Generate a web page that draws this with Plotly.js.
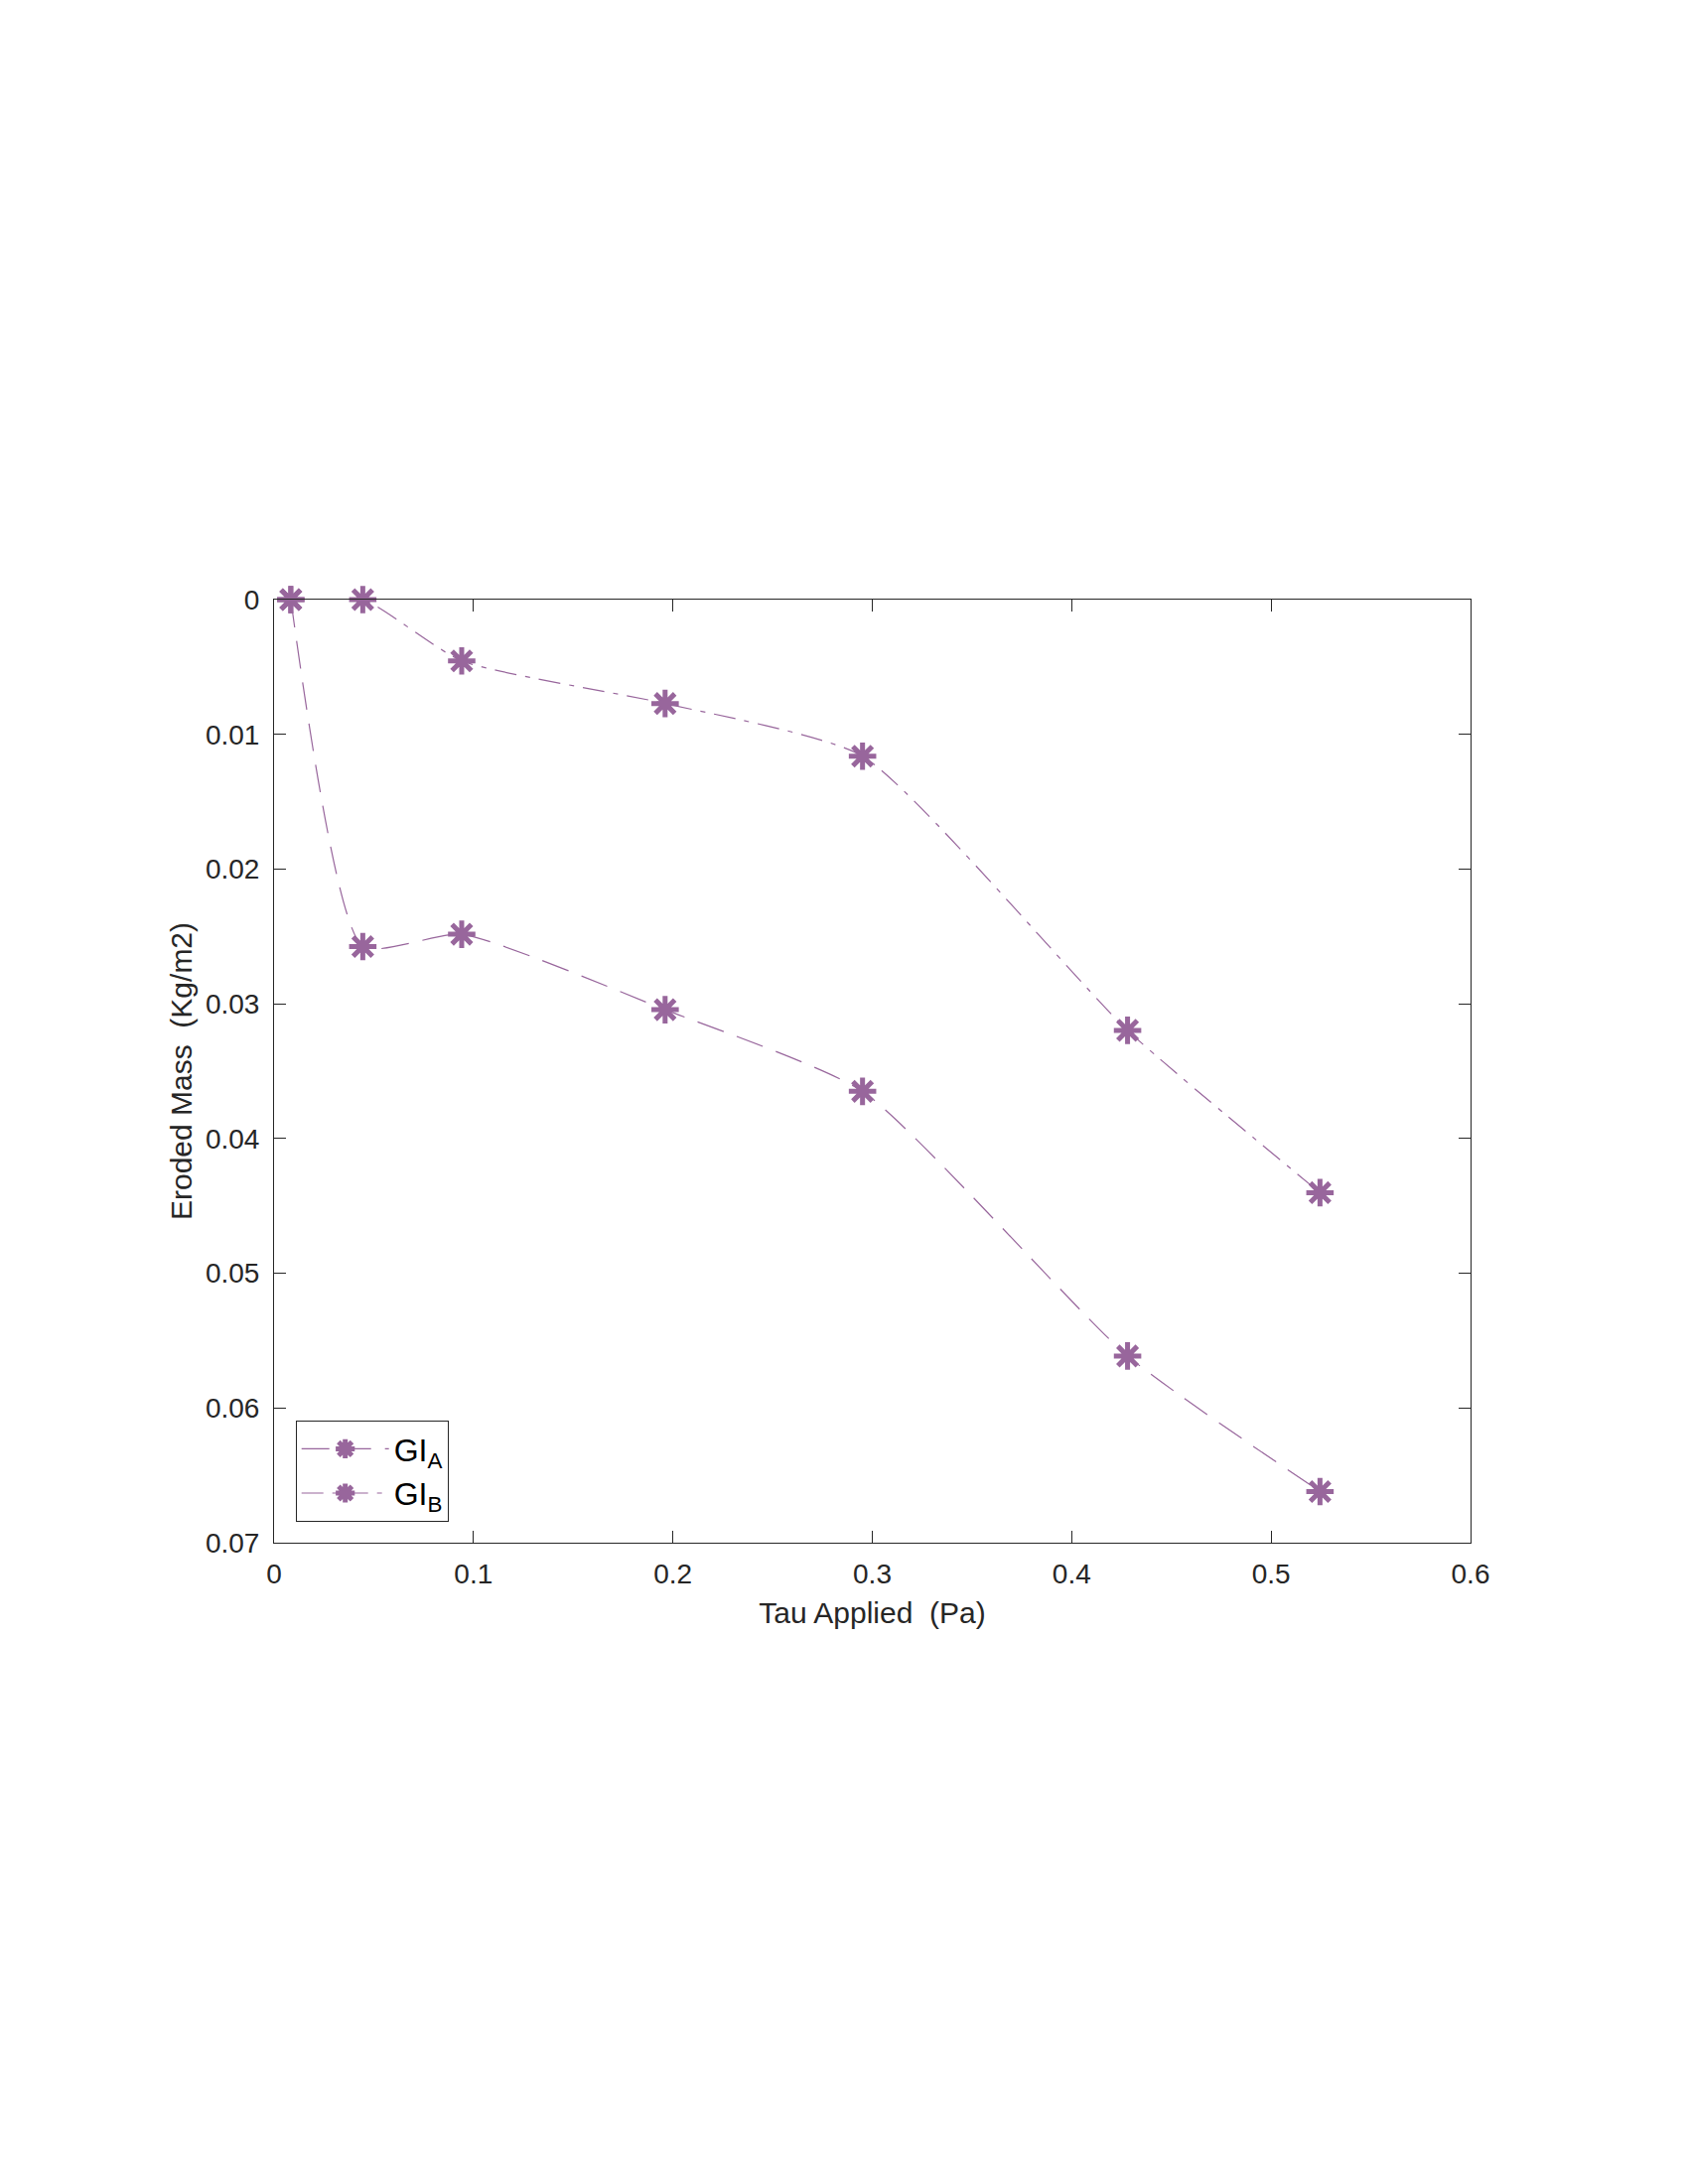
<!DOCTYPE html>
<html>
<head>
<meta charset="utf-8">
<script src="https://cdn.plot.ly/plotly-3.0.1.min.js"></script>
<style>html,body{margin:0;padding:0;background:#fff;}#chart{width:1700px;height:2200px;}</style>
</head>
<body>
<div id="chart"></div>
<script>
// Data
const tauApplied = [0.0084, 0.0445, 0.0941, 0.1961, 0.2951, 0.4280, 0.5245];
const giA = [0, 0.02575, 0.02484, 0.03044, 0.0365, 0.05614, 0.0662];
const giB = [0, 0, 0.00455, 0.00771, 0.01162, 0.03197, 0.04402];
const seriesNames = ['GI<sub>A</sub>', 'GI<sub>B</sub>'];
const xTicks = [0, 0.1, 0.2, 0.3, 0.4, 0.5, 0.6];
const yTicks = [0, 0.01, 0.02, 0.03, 0.04, 0.05, 0.06, 0.07];

const purple = '#98669c';
const axisColor = '#262626';
const fontFam = 'Liberation Sans, Arial, Helvetica, sans-serif';

function trace(y, name, dash) {
  return {
    x: tauApplied, y: y, name: name, type: 'scatter', mode: 'lines+markers',
    cliponaxis: false,
    line: {color: purple, width: 1.2, dash: dash, shape: 'spline', smoothing: 0.55},
    marker: {symbol: 'asterisk-open', size: 23, color: purple, line: {color: purple, width: 5}}
  };
}

const data = [
  trace(giA, seriesNames[0], '28px,14px'),
  trace(giB, seriesNames[1], '22px,9px,5px,9px')
];

const axBase = {
  showline: true, mirror: 'ticks', linecolor: axisColor, linewidth: 1,
  ticks: 'inside', ticklen: 12, tickwidth: 1, tickcolor: axisColor,
  showgrid: false, zeroline: false,
  tickfont: {family: fontFam, size: 28, color: axisColor}
};

const layout = {
  width: 1700, height: 2200,
  paper_bgcolor: '#ffffff', plot_bgcolor: '#ffffff',
  margin: {l: 275.5, r: 219, t: 604, b: 646, pad: 0},
  showlegend: true,
  xaxis: Object.assign({}, axBase, {
    range: [0, 0.6], tickvals: xTicks, ticktext: xTicks.map(String),
    ticklabelstandoff: 6,
    title: {text: 'Tau Applied\u00a0\u00a0(Pa)', font: {family: fontFam, size: 30, color: axisColor}, standoff: 14}
  }),
  yaxis: Object.assign({}, axBase, {
    range: [0.07, 0], tickvals: yTicks, ticktext: yTicks.map(String),
    ticklabelstandoff: 8,
    title: {text: 'Eroded Mass\u00a0\u00a0(Kg/m2)', font: {family: fontFam, size: 30, color: axisColor}, standoff: 4}
  }),
  legend: {
    x: 0.018, y: 0.022, xanchor: 'left', yanchor: 'bottom',
    bgcolor: '#ffffff', bordercolor: axisColor, borderwidth: 1,
    font: {family: fontFam, size: 32, color: '#000000'},
    itemwidth: 88
  }
};

Plotly.newPlot('chart', data, layout, {displayModeBar: false, staticPlot: true});
</script>
</body>
</html>
